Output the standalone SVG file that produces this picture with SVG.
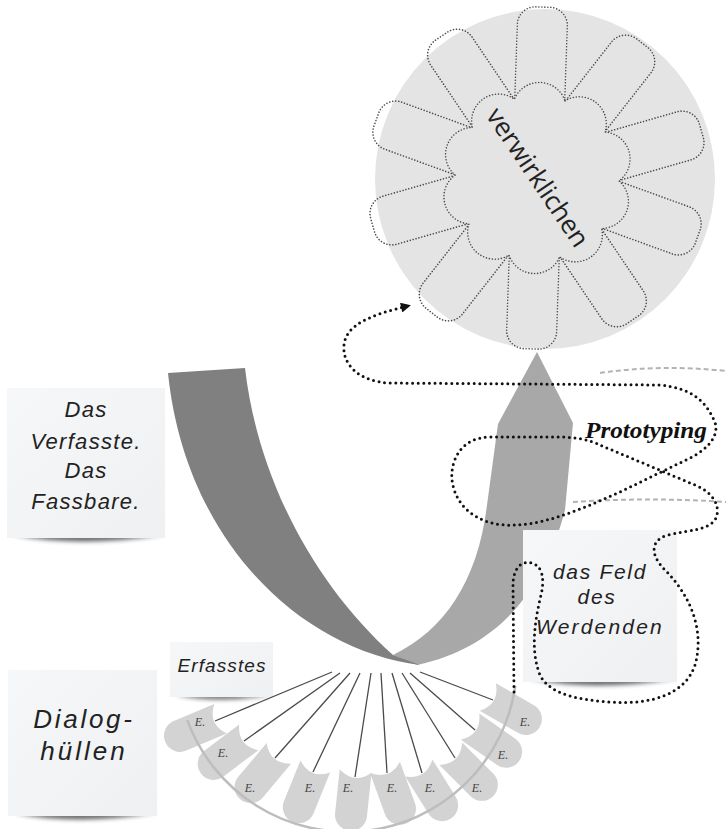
<svg xmlns="http://www.w3.org/2000/svg" xmlns:xlink="http://www.w3.org/1999/xlink" width="726" height="829" viewBox="0 0 726 829">
<defs>
<style>
.dot{fill:none;stroke:#111;stroke-width:3;stroke-linecap:round;stroke-dasharray:0 5.6}
.petal{fill:none;stroke:#4a4a4a;stroke-width:1.6;stroke-linecap:round;stroke-dasharray:0 3}
.note{fill:url(#noteGrad)}
.shadow{fill:#333;opacity:.75}
.hand{font-family:"Liberation Sans","DejaVu Sans",sans-serif;font-style:italic;fill:#222;text-anchor:middle}
.tab{fill:#d3d3d3}
.ray{stroke:#4a4a4a;stroke-width:1.3;fill:none}
.elab{font-family:"Liberation Serif",serif;font-style:italic;font-size:12px;fill:#444;text-anchor:middle}
.gdash{fill:none;stroke:#b3b3b3;stroke-width:2;stroke-dasharray:5 3}
</style>
<linearGradient id="noteGrad" x1="0" y1="0" x2="1" y2="1">
<stop offset="0" stop-color="#f6f7f9"/>
<stop offset="0.6" stop-color="#f2f3f5"/>
<stop offset="1" stop-color="#eef0f2"/>
</linearGradient>
<filter id="blur" x="-20%" y="-200%" width="140%" height="500%"><feGaussianBlur stdDeviation="2"/></filter>
<path id="tabShape" class="tab" d="M -16 -6 Q 0 8 16 -6 L 16 38 A 16 16 0 0 1 -16 38 Z"/>
<rect id="petalShape" class="petal" x="40" y="-25" width="131" height="50" rx="18"/>
<marker id="arr" viewBox="0 0 10 10" refX="7" refY="5" markerWidth="11" markerHeight="10" markerUnits="userSpaceOnUse" orient="auto"><path d="M0,0 L10,5 L0,10 z" fill="#111"/></marker>
</defs>

<g id="circle-verwirklichen">
<circle cx="545" cy="179" r="170" fill="#e4e4e4"/>
<g transform="translate(537 178)">
<use href="#petalShape" transform="rotate(-88)"/>
<use href="#petalShape" transform="rotate(-52)"/>
<use href="#petalShape" transform="rotate(-16)"/>
<use href="#petalShape" transform="rotate(20)"/>
<use href="#petalShape" transform="rotate(56)"/>
<use href="#petalShape" transform="rotate(92)"/>
<use href="#petalShape" transform="rotate(128)"/>
<use href="#petalShape" transform="rotate(164)"/>
<use href="#petalShape" transform="rotate(200)"/>
<use href="#petalShape" transform="rotate(236)"/>
</g>
<path fill="#e4e4e4" stroke="#4a4a4a" stroke-width="1.6" stroke-linecap="round" stroke-dasharray="0 3" d="M 565.0 100.9 A 27 27 0 0 1 605.0 132.1 A 27 27 0 0 1 618.9 180.9 A 27 27 0 0 1 601.6 228.5 A 27 27 0 0 1 559.6 256.8 A 27 27 0 0 1 509.0 255.1 A 27 27 0 0 1 469.0 223.9 A 27 27 0 0 1 455.1 175.1 A 27 27 0 0 1 472.4 127.5 A 27 27 0 0 1 514.4 99.2 A 27 27 0 0 1 565.0 100.9 Z"/>
<text transform="translate(537 178) rotate(56)" y="8" text-anchor="middle" font-family="Open Sans, DejaVu Sans, sans-serif" font-size="26" fill="#222">verwirklichen</text>
</g>

<g id="u-arrow">
<path fill="#a8a8a8" d="M 393 655 C 445 630, 478 580, 487 505 L 498 424 L 537 352 L 573 423 L 565 510 C 548 575, 510 645, 417 665 Z"/>
<path fill="#808080" d="M 168 373 L 245 368 C 258 480, 315 585, 393 655 L 420 665 C 300 650, 185 540, 168 373 Z"/>
</g>

<g id="fan">
<use href="#tabShape" transform="translate(215 721) rotate(67)"/>
<use href="#tabShape" transform="translate(244 741) rotate(53)"/>
<use href="#tabShape" transform="translate(275 758) rotate(40)"/>
<use href="#tabShape" transform="translate(313 772) rotate(22)"/>
<use href="#tabShape" transform="translate(355 777) rotate(6)"/>
<use href="#tabShape" transform="translate(387 773) rotate(-20)"/>
<use href="#tabShape" transform="translate(422 773) rotate(-32)"/>
<use href="#tabShape" transform="translate(455 758) rotate(-45)"/>
<use href="#tabShape" transform="translate(475 730) rotate(-55)"/>
<use href="#tabShape" transform="translate(493 700) rotate(-60)"/>
<path d="M 187.3 720.1 A 170 170 0 0 0 515.3 685.7" fill="none" stroke="#bdbdbd" stroke-width="2.5"/>
<text class="elab" x="200" y="726">E.</text>
<text class="elab" x="223" y="757">E.</text>
<text class="elab" x="250" y="792">E.</text>
<text class="elab" x="310" y="792">E.</text>
<text class="elab" x="348" y="792">E.</text>
<text class="elab" x="392" y="792">E.</text>
<text class="elab" x="430" y="792">E.</text>
<text class="elab" x="477" y="792">E.</text>
<text class="elab" x="503" y="759">E.</text>
<text class="elab" x="525" y="726">E.</text>
</g>

<g id="note-verfasste">
<path class="shadow" filter="url(#blur)" d="M 13 535 Q 80 548 163 535 Z"/>
<rect class="note" x="7" y="388" width="158" height="150"/>
<text class="hand" font-size="22" letter-spacing="1.3" x="86" y="417">Das</text>
<text class="hand" font-size="22" letter-spacing="1.3" x="86" y="449">Verfasste.</text>
<text class="hand" font-size="22" letter-spacing="1.3" x="86" y="478">Das</text>
<text class="hand" font-size="22" letter-spacing="1.3" x="86" y="509">Fassbare.</text>
</g>

<g id="note-dialoghuellen">
<path class="shadow" filter="url(#blur)" d="M 14 813 Q 75 826 155 813 Z"/>
<rect class="note" x="8" y="670" width="149" height="146"/>
<text class="hand" font-size="26" letter-spacing="2.7" x="84" y="728">Dialog-</text>
<text class="hand" font-size="26" letter-spacing="3" x="84" y="760">hüllen</text>
</g>

<g id="note-erfasstes">
<path class="shadow" filter="url(#blur)" d="M 175 695 Q 220 704 272 695 Z"/>
<rect class="note" x="170" y="642" width="103" height="55"/>
<text class="hand" font-size="19" letter-spacing="1.1" x="222" y="672">Erfasstes</text>
</g>

<g id="note-feld">
<path class="shadow" filter="url(#blur)" d="M 530 679 Q 595 692 675 679 Z"/>
<rect class="note" x="523" y="530" width="154" height="152"/>
<text class="hand" font-size="21" letter-spacing="1.7" x="600" y="579">das Feld</text>
<text class="hand" font-size="21" letter-spacing="1.7" x="597" y="604">des</text>
<text class="hand" font-size="21" letter-spacing="2.2" x="600" y="634">Werdenden</text>
</g>

<g id="connectors">
<line class="ray" x1="332" y1="672" x2="215" y2="721"/>
<line class="ray" x1="340" y1="673" x2="244" y2="741"/>
<line class="ray" x1="350" y1="673" x2="275" y2="758"/>
<line class="ray" x1="360" y1="673" x2="313" y2="772"/>
<line class="ray" x1="371" y1="673" x2="355" y2="777"/>
<line class="ray" x1="381" y1="673" x2="387" y2="773"/>
<line class="ray" x1="392" y1="673" x2="422" y2="773"/>
<line class="ray" x1="402" y1="673" x2="455" y2="758"/>
<line class="ray" x1="410" y1="673" x2="475" y2="730"/>
<line class="ray" x1="420" y1="672" x2="493" y2="700"/>
<path class="gdash" d="M 600 373 Q 660 364 726 371"/>
<path class="gdash" d="M 573 502 Q 650 497 726 502"/>
<path class="dot" marker-end="url(#arr)" d="M 514 692 L 513 585 C 513 568, 522 560, 532 563 C 542 566, 545 578, 541 595 C 535 620, 530 650, 540 675 C 550 695, 580 700, 610 702 C 650 705, 685 695, 695 665 C 705 630, 690 595, 665 570 C 650 555, 650 540, 668 535 C 690 530, 710 530, 716 518 C 721 505, 712 492, 695 485 L 600 445 C 590 440, 575 437, 560 437 L 490 437 C 462 437, 450 460, 452 480 C 455 505, 475 523, 505 525 C 540 527, 580 510, 620 492 L 690 458 C 712 447, 720 432, 714 420 C 705 400, 690 388, 660 385 L 390 383 C 360 382, 342 365, 344 345 C 346 325, 370 315, 408 306"/>
</g>

<g id="label-prototyping">
<text x="585" y="438" font-family="Liberation Serif, serif" font-weight="bold" font-style="italic" font-size="24" textLength="122" lengthAdjust="spacingAndGlyphs" fill="#111">Prototyping</text>
</g>
</svg>
